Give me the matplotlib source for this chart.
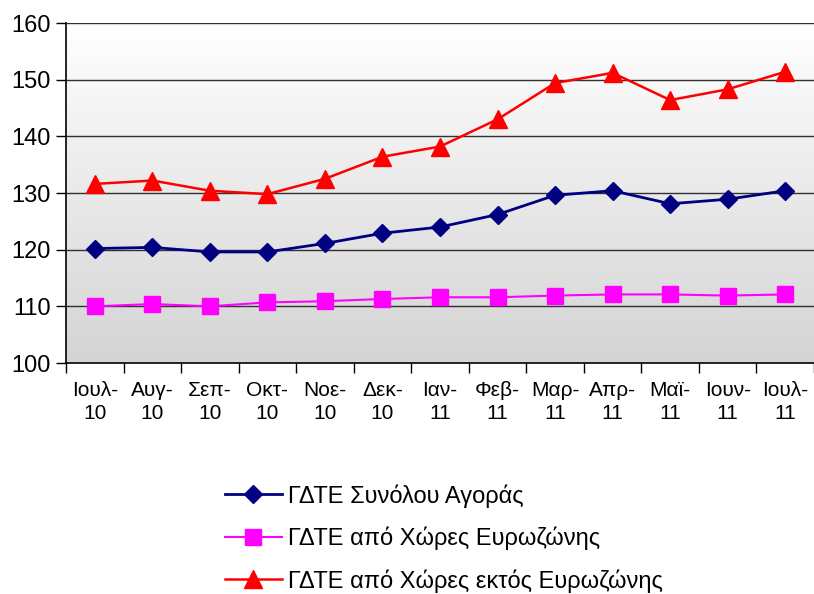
import numpy as np
import matplotlib
matplotlib.use('Agg')
import matplotlib.pyplot as plt

plt.rcParams['font.family'] = ['Liberation Sans', 'DejaVu Sans']

# Data
months = ['Ιουλ-\n10', 'Αυγ-\n10', 'Σεπ-\n10', 'Οκτ-\n10', 'Νοε-\n10', 'Δεκ-\n10',
          'Ιαν-\n11', 'Φεβ-\n11', 'Μαρ-\n11', 'Απρ-\n11', 'Μαϊ-\n11', 'Ιουν-\n11', 'Ιουλ-\n11']
total = [120.2, 120.4, 119.6, 119.6, 121.1, 122.9, 124.0, 126.2, 129.6, 130.4, 128.1, 128.9, 130.4]
euro = [110.0, 110.4, 110.0, 110.7, 110.9, 111.3, 111.6, 111.6, 111.9, 112.1, 112.1, 111.9, 112.1]
non_euro = [131.6, 132.2, 130.4, 129.8, 132.5, 136.4, 138.2, 143.0, 149.4, 151.2, 146.4, 148.3, 151.4]

labels = ['ΓΔΤΕ Συνόλου Αγοράς', 'ΓΔΤΕ από Χώρες Ευρωζώνης', 'ΓΔΤΕ από Χώρες εκτός Ευρωζώνης']

fig = plt.figure(figsize=(8.14, 5.94), dpi=100)
ax = fig.add_axes([66 / 814, 231 / 594, 748 / 814, 340 / 594])

# gradient background
grad = np.linspace(0, 1, 256).reshape(-1, 1)
ax.imshow(grad, extent=[0, 1, 0, 1], transform=ax.transAxes, aspect='auto',
          cmap=matplotlib.colors.LinearSegmentedColormap.from_list('g', ['#ffffff', '#d4d4d4']),
          zorder=0)

x = np.arange(len(months))
ax.plot(x, total, color='#000080', lw=2, marker='D', ms=9.5, label=labels[0], zorder=4)
ax.plot(x, euro, color='#ff00ff', lw=1.5, marker='s', ms=11, label=labels[1], zorder=4)
ax.plot(x, non_euro, color='#ff0000', lw=1.8, marker='^', ms=13, label=labels[2], zorder=4)

ax.set_xlim(-0.5, len(months) - 0.5)
ax.set_ylim(100, 160)
ax.set_yticks(range(100, 161, 10))
ax.yaxis.grid(True, color='#303030', lw=1)
ax.set_axisbelow(False)
for gl in ax.yaxis.get_gridlines():
    gl.set_zorder(1)

ax.set_xticks(x)
ax.set_xticklabels(months, fontsize=15, linespacing=1.28)
ax.set_xticks(np.arange(-0.5, len(months), 1), minor=True)
ax.tick_params(axis='x', which='major', length=0, pad=13)
ax.tick_params(axis='x', which='minor', length=7, direction='out', width=1)
ax.tick_params(axis='y', length=7, width=1, labelsize=17, pad=4)

for s in ['top', 'right']:
    ax.spines[s].set_visible(False)
ax.spines['left'].set_linewidth(1.2)
ax.spines['bottom'].set_linewidth(1.2)

fig.legend(loc='upper left', bbox_to_anchor=(225 / 814, 1 - 484 / 594), frameon=False,
           fontsize=17, handlelength=2.4, handletextpad=0.25, labelspacing=0.81,
           borderpad=0, borderaxespad=0)

fig.savefig('out.png', dpi=100)
